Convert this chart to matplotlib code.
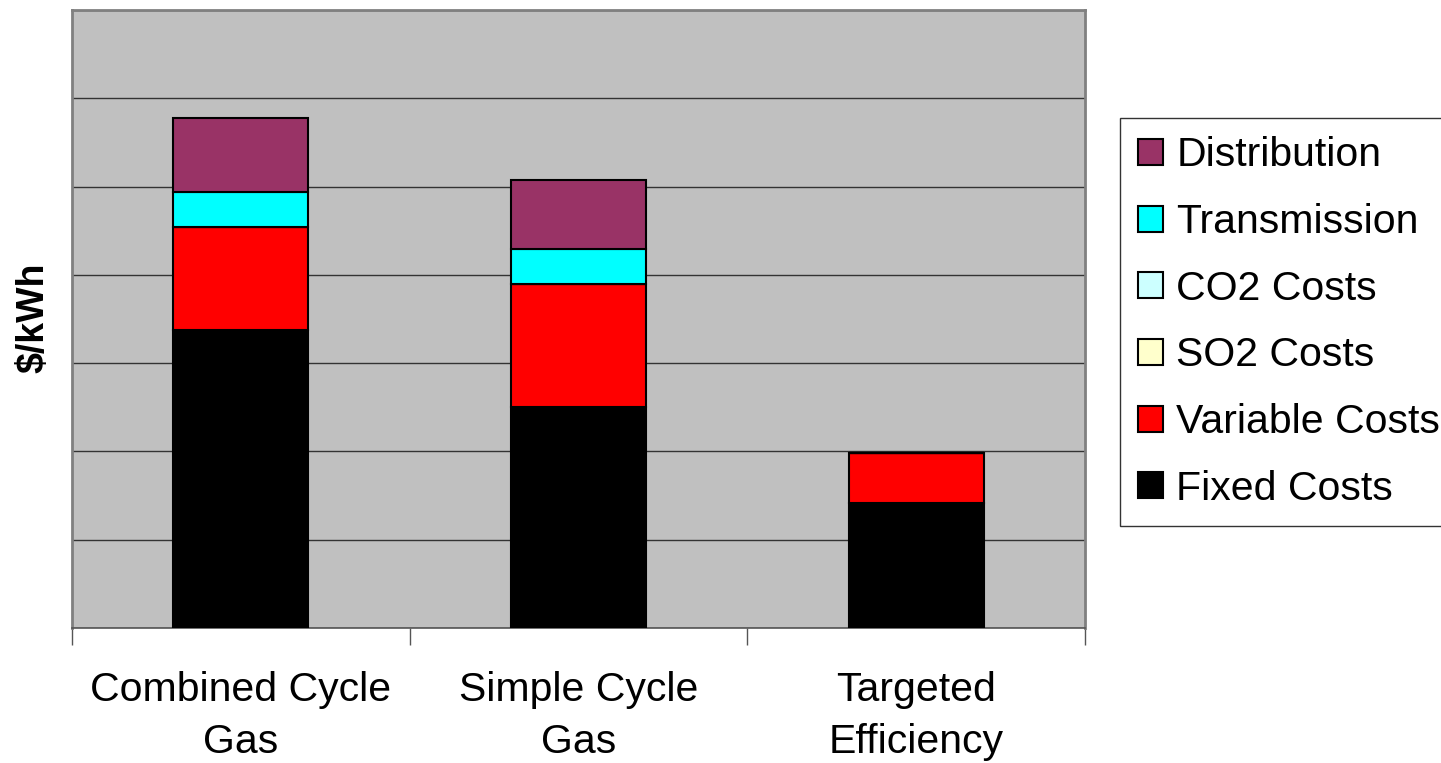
import matplotlib
matplotlib.use("Agg")
import matplotlib.pyplot as plt
import numpy as np

plt.rcParams['font.family'] = ['Liberation Sans', 'DejaVu Sans']

categories = ["Combined Cycle\nGas", "Simple Cycle\nGas", "Targeted\nEfficiency"]
fixed = [3.37, 2.50, 1.42]
variable = [1.17, 1.40, 0.56]
so2 = [0.0, 0.0, 0.0]
co2 = [0.0, 0.0, 0.0]
transmission = [0.40, 0.39, 0.0]
distribution = [0.84, 0.79, 0.0]

series = [
    ("Fixed Costs", fixed, "#000000"),
    ("Variable Costs", variable, "#FF0000"),
    ("SO2 Costs", so2, "#FFFFCC"),
    ("CO2 Costs", co2, "#CCFFFF"),
    ("Transmission", transmission, "#00FFFF"),
    ("Distribution", distribution, "#993366"),
]

fig = plt.figure(figsize=(14.41, 7.63), dpi=100)
ax = fig.add_axes([72/1441, 1-628/763, (1085-72)/1441, (628-10)/763])
ax.set_facecolor("#C0C0C0")

x = np.arange(len(categories))
bottom = np.zeros(len(categories))
handles = []
for name, vals, col in series:
    vals = np.array(vals)
    b = ax.bar(x, vals, 0.4, bottom=bottom, color=col, edgecolor="black",
               linewidth=1.5, label=name, zorder=3)
    handles.append(b)
    bottom += vals

ax.set_xlim(-0.5, 2.5)
ax.set_ylim(0, 7)
ax.set_yticks(range(8))
ax.yaxis.grid(True, color="#333333", linewidth=1, zorder=0)
ax.tick_params(axis='y', left=False, labelleft=False)

ax.set_xticks(x)
ax.set_xticklabels(categories, fontsize=29.5, linespacing=1.45)
ax.tick_params(axis='x', which='major', length=0, pad=31)
ax.set_xticks([-0.5, 0.5, 1.5, 2.5], minor=True)
ax.tick_params(axis='x', which='minor', length=12, width=1, color="#555555")

for s in ax.spines.values():
    s.set_color("#808080")
    s.set_linewidth(2)
ax.spines['bottom'].set_linewidth(1.2)
ax.spines['bottom'].set_color("#555555")

fig.text(33/1441, 1-318/763, r"\$/kWh", rotation=90, fontsize=27,
         fontweight='bold', ha='center', va='center')

leg = fig.legend(handles[::-1], [s[0] for s in series][::-1],
                 loc='upper left', bbox_to_anchor=(1120/1441, 1-118/763),
                 fontsize=29.5, frameon=True, fancybox=False, shadow=False,
                 handlelength=0.6, handleheight=0.6, handletextpad=0.32,
                 labelspacing=0.7, borderpad=0.45, borderaxespad=0)
leg.get_frame().set_edgecolor("black")
leg.get_frame().set_linewidth(1)

fig.savefig("out.png", dpi=100)
